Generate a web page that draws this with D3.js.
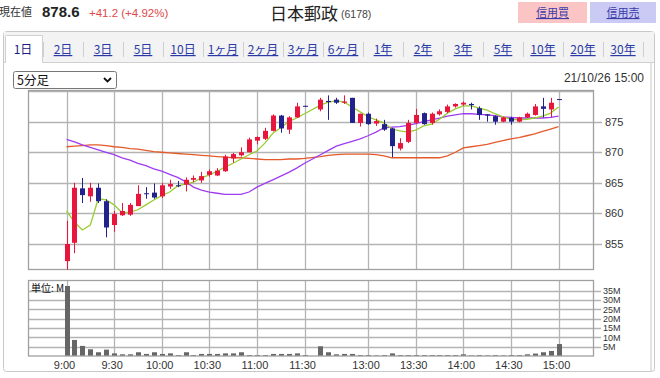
<!DOCTYPE html>
<meta charset="utf-8">
<script src="https://d3js.org/d3.v7.min.js"></script>
<style>
  html, body { margin: 0; padding: 0; background: #fff; }
  svg { display: block; font-family: 'Liberation Sans', Arial, 'Noto Sans CJK JP', sans-serif; }
  .jp { font-family: 'Noto Sans CJK JP', sans-serif; }
</style>
<body>
<div id="chart"></div>
<script>

// 5分足, 21/10/26
var amTimes = ["9:00","9:05","9:10","9:15","9:20","9:25","9:30","9:35","9:40","9:45","9:50","9:55",
  "10:00","10:05","10:10","10:15","10:20","10:25","10:30","10:35","10:40","10:45","10:50","10:55",
  "11:00","11:05","11:10","11:15","11:20","11:25","11:30"];
var pmTimes = ["12:30","12:35","12:40","12:45","12:50","12:55","13:00","13:05","13:10","13:15","13:20","13:25",
  "13:30","13:35","13:40","13:45","13:50","13:55","14:00","14:05","14:10","14:15","14:20","14:25",
  "14:30","14:35","14:40","14:45","14:50","14:55","15:00"];
var times = amTimes.concat(pmTimes);

var open = [852.2,855.2,864.1,862.8,864.2,862.0,858.1,859.7,859.8,861.2,863.3,863.4,862.8,864.4,864.6,864.7,865.5,865.4,866.3,866.2,866.9,869.0,869.5,870.0,871.9,872.2,873.5,876.0,873.7,875.7,877.6,
  877.0,878.4,878.6,878.1,878.9,874.8,876.3,874.7,874.6,873.9,870.6,871.7,874.8,876.4,874.8,876.2,876.6,877.5,877.8,877.9,877.2,876.2,875.9,875.0,875.6,875.0,875.7,876.1,877.5,877.0,878.7];
var high = [858.8,865.0,865.8,865.0,864.9,862.3,860.4,861.7,861.7,864.6,864.3,864.9,865.0,865.5,865.3,865.9,866.2,866.8,867.2,867.4,869.6,869.9,870.8,872.4,872.6,874.0,876.2,876.1,875.9,878.1,877.6,
  878.9,879.3,878.9,879.3,878.9,876.3,876.5,875.5,875.3,874.0,872.3,875.3,877.1,876.5,876.5,877.0,877.8,878.0,878.3,878.1,877.5,876.2,876.0,875.8,875.8,875.8,876.5,877.9,878.9,878.9,878.7];
var low = [850.8,853.5,861.7,861.9,861.7,856.1,857.0,859.6,859.6,861.2,862.4,862.4,862.5,864.0,864.3,863.6,865.1,865.0,866.0,866.1,866.8,868.3,869.3,870.0,871.3,872.0,873.4,873.2,873.0,875.6,877.4,
  876.7,875.3,877.9,877.9,874.8,874.2,874.5,874.3,873.5,869.2,870.3,871.5,874.6,874.5,874.5,876.0,876.4,877.3,877.6,877.0,875.3,875.0,874.5,874.9,874.5,874.9,875.6,876.0,875.7,875.7,878.6];
var close = [855.0,864.2,863.0,864.2,862.0,857.7,859.9,860.4,861.4,863.2,863.2,862.6,864.6,864.8,864.5,865.5,865.8,866.1,866.9,867.0,869.3,869.7,870.0,872.1,872.5,873.5,876.0,873.9,875.7,877.5,877.5,
  878.6,878.2,878.1,878.3,874.8,876.3,874.6,875.1,873.7,871.0,871.5,874.8,876.1,874.6,876.3,876.7,877.5,877.9,878.1,877.7,876.1,876.0,875.0,875.7,875.0,875.7,876.3,877.5,877.1,878.1,878.6];

// 出来高 (単位: M)
var volume = [37.5,8.6,5.4,3.6,2.0,3.4,1.4,0.9,0.9,2.0,1.1,2.0,1.1,1.4,0.5,2.0,0.5,1.1,1.1,1.1,1.4,1.4,2.0,0.5,0.5,0.5,1.1,1.1,1.1,1.4,0.5,
  5.2,2.0,0.9,1.1,1.1,0.5,0.5,0.3,0.5,1.4,0.5,0.5,0.5,0.5,0.5,0.5,0.5,0.5,0.9,0.3,0.5,0.3,0.5,0.3,0.5,0.5,0.9,1.3,2.0,2.7,6.4];

// 移動平均
var ma5 = [860.4,858.6,857.3,858.1,862.4,862.2,861.4,860.1,860.2,860.6,861.4,862.2,862.9,863.5,864.5,864.8,865.1,865.8,866.3,866.9,867.6,868.2,868.9,869.6,870.2,871.5,873.1,874.0,875.0,875.6,876.3,
  877.7,878.2,878.4,878.2,877.4,876.6,875.8,875.3,874.8,873.8,873.5,873.3,873.6,874.3,874.6,875.4,876.4,877.1,877.6,877.6,877.2,876.9,876.3,875.8,875.4,875.3,875.4,875.6,875.9,876.4,877.4];
var ma25 = [872.1,871.7,871.2,870.8,870.4,870.0,869.6,869.1,868.7,868.2,867.8,867.3,866.9,866.4,865.9,865.2,864.3,863.8,863.5,863.3,863.1,863.1,863.1,863.5,864.3,864.9,865.5,866.1,866.7,867.4,868.2,
  869.6,870.3,871.0,871.4,871.8,872.2,872.7,873.3,874.0,874.1,874.2,874.4,874.7,875.0,875.3,875.6,875.9,876.1,876.3,876.3,876.2,876.1,876.0,875.8,875.7,875.6,875.6,875.6,875.6,875.7,875.9];
var ma75 = [870.9,871.0,871.1,871.2,871.2,871.1,870.9,870.8,870.6,870.5,870.3,870.1,870.0,869.9,869.8,869.7,869.6,869.5,869.4,869.3,869.2,869.1,869.1,869.0,868.9,868.8,868.8,868.8,868.9,868.9,869.0,
  869.3,869.5,869.6,869.7,869.7,869.7,869.7,869.6,869.4,869.1,869.1,869.1,869.1,869.1,869.1,869.1,869.4,870.0,870.7,870.9,871.1,871.3,871.6,871.9,872.2,872.4,872.7,873.0,873.4,873.8,874.2];

var priceTicks = [855, 860, 865, 870, 875, 880];
var volTicks = [5, 10, 15, 20, 25, 30, 35];
var timeTicks = ["9:00","9:30","10:00","10:30","11:00","11:30","13:00","13:30","14:00","14:30","15:00"];
var tabs = ["1日","2日","3日","5日","10日","1ヶ月","2ヶ月","3ヶ月","6ヶ月","1年","2年","3年","5年","10年","20年","30年"];

var W = 660, H = 378;
var svg = d3.select("#chart").append("svg").attr("width", W).attr("height", H);

// ---- header ----
svg.append("text").attr("class", "jp").attr("x", -1).attr("y", 16).attr("font-size", 11).attr("fill", "#333").text("現在値");
svg.append("text").attr("x", 42).attr("y", 17).attr("font-size", 15).attr("font-weight", "bold").attr("fill", "#222").text("878.6");
svg.append("text").attr("x", 89).attr("y", 17).attr("font-size", 11.5).attr("fill", "#e04848").text("+41.2 (+4.92%)");
svg.append("text").attr("class", "jp").attr("x", 270).attr("y", 20).attr("font-size", 17).attr("fill", "#222").text("日本郵政");
svg.append("text").attr("x", 341).attr("y", 18).attr("font-size", 10.5).attr("fill", "#444").text("(6178)");

var btns = [{t: "信用買", x: 518, w: 69, c: "#fbc5c5"}, {t: "信用売", x: 590, w: 66, c: "#cacaf4"}];
btns.forEach(function(b) {
  svg.append("rect").attr("x", b.x).attr("y", 2).attr("width", b.w).attr("height", 21).attr("fill", b.c);
  svg.append("text").attr("class", "jp").attr("x", b.x + b.w / 2).attr("y", 17)
    .attr("text-anchor", "middle").attr("font-size", 11).attr("fill", "#3a3aa8")
    .attr("text-decoration", "underline").text(b.t);
});

// ---- panel + tabs ----
svg.append("rect").attr("x", 3.5).attr("y", 31.5).attr("width", 651).attr("height", 340).attr("rx", 3)
  .attr("fill", "#fff").attr("stroke", "#c8c8c8");
svg.append("rect").attr("x", 4).attr("y", 32).attr("width", 650).attr("height", 30).attr("fill", "#f3f3f3");
svg.append("line").attr("x1", 4).attr("x2", 654).attr("y1", 62.5).attr("y2", 62.5).attr("stroke", "#d0d0d0");
svg.append("path").attr("d", "M5.5,62.5 V36.5 Q5.5,35.5 6.5,35.5 H42.5 V62.5").attr("fill", "#fff").attr("stroke", "#d0d0d0");
svg.append("line").attr("x1", 6).attr("x2", 42).attr("y1", 62.5).attr("y2", 62.5).attr("stroke", "#fff");
svg.append("line").attr("x1", 651).attr("x2", 651).attr("y1", 63).attr("y2", 371).attr("stroke", "#e2e2e2").attr("stroke-width", 2);

tabs.forEach(function(t, i) {
  svg.append("text").attr("class", "jp").attr("x", 23 + 40 * i).attr("y", 54)
    .attr("text-anchor", "middle").attr("font-size", 12)
    .attr("fill", i == 0 ? "#1b1b80" : "#2b3ba6")
    .attr("text-decoration", i == 0 ? null : "underline").text(t);
  if (i > 0) svg.append("line").attr("x1", 3.5 + 40 * i).attr("x2", 3.5 + 40 * i).attr("y1", 42).attr("y2", 57).attr("stroke", "#cfcfcf");
});
svg.append("line").attr("x1", 643.5).attr("x2", 643.5).attr("y1", 42).attr("y2", 57).attr("stroke", "#cfcfcf");

// dropdown + date
svg.append("rect").attr("x", 13.5).attr("y", 71.5).attr("width", 103).attr("height", 17).attr("rx", 2)
  .attr("fill", "#fff").attr("stroke", "#777");
svg.append("text").attr("class", "jp").attr("x", 17).attr("y", 85).attr("font-size", 12.5).attr("fill", "#111").text("5分足");
svg.append("path").attr("d", "M104,78 L107.5,81.5 L111,78").attr("fill", "none").attr("stroke", "#111").attr("stroke-width", 1.8);
svg.append("text").attr("x", 644).attr("y", 82).attr("text-anchor", "end").attr("font-size", 12).attr("fill", "#333").text("21/10/26 15:00");

// ---- scales ----
var x = d3.scalePoint().domain(amTimes.concat(["lunch"], pmTimes)).range([66.5, 558.5]);
var y = d3.scaleLinear().domain([850.75, 880.18]).range([270, 90]);
var yv = d3.scaleLinear().domain([0, 40.7]).range([356, 280]);

var plotL = 28, plotR = 594;
var grid = "#b4b4b4";

// ---- price panel ----
var pg = svg.append("g");
pg.append("rect").attr("x", plotL).attr("y", 90).attr("width", plotR - plotL).attr("height", 180).attr("fill", "#fff");
pg.selectAll(".vg").data(timeTicks).enter().append("line")
  .attr("x1", function(d) { return Math.round(x(d)) + 0.5; }).attr("x2", function(d) { return Math.round(x(d)) + 0.5; })
  .attr("y1", 90).attr("y2", 270).attr("stroke", grid).attr("stroke-width", 1.3);
pg.selectAll(".hg").data(priceTicks).enter().append("line")
  .attr("x1", plotL).attr("x2", function(d) { return d == 880 ? plotR : plotR + 8; })
  .attr("y1", function(d) { return Math.round(y(d)) + 0.5; }).attr("y2", function(d) { return Math.round(y(d)) + 0.5; })
  .attr("stroke", grid).attr("stroke-width", 1.3);
pg.selectAll(".pl").data(priceTicks.filter(function(d) { return d < 880; })).enter().append("text")
  .attr("x", 605).attr("y", function(d) { return y(d) + 4; }).attr("font-size", 11).attr("fill", "#333").text(function(d) { return d; });
pg.append("rect").attr("x", plotL + 0.5).attr("y", 90.5).attr("width", plotR - plotL - 1).attr("height", 179)
  .attr("fill", "none").attr("stroke", "#a0a0a0").attr("stroke-width", 1.3);

// moving averages
function maLine(arr, color) {
  var line = d3.line().x(function(d, i) { return x(times[i]); }).y(function(d) { return y(d); });
  pg.append("path").datum(arr).attr("d", line).attr("fill", "none").attr("stroke", color).attr("stroke-width", 1.3);
}
maLine(ma75, "#e55a2b");
maLine(ma25, "#a03cf0");
maLine(ma5, "#9acd32");

// candles
var cd = times.map(function(t, i) { return {t: t, o: open[i], h: high[i], l: low[i], c: close[i]}; });
var col = function(d) { return d.c >= d.o ? "#e8163c" : "#22228c"; };
pg.selectAll(".wick").data(cd).enter().append("line")
  .attr("x1", function(d) { return Math.round(x(d.t)) + 0.5; }).attr("x2", function(d) { return Math.round(x(d.t)) + 0.5; })
  .attr("y1", function(d) { return y(d.h); }).attr("y2", function(d) { return y(d.l); })
  .attr("stroke", col).attr("stroke-width", 1);
pg.selectAll(".body").data(cd).enter().append("rect")
  .attr("x", function(d) { return Math.round(x(d.t)) - 2; })
  .attr("y", function(d) { return y(Math.max(d.o, d.c)); })
  .attr("width", 5)
  .attr("height", function(d) { return Math.max(1, y(Math.min(d.o, d.c)) - y(Math.max(d.o, d.c))); })
  .attr("fill", col);

// ---- volume panel ----
var vg = svg.append("g");
vg.selectAll(".vvg").data(timeTicks).enter().append("line")
  .attr("x1", function(d) { return Math.round(x(d)) + 0.5; }).attr("x2", function(d) { return Math.round(x(d)) + 0.5; })
  .attr("y1", 280).attr("y2", 356).attr("stroke", grid).attr("stroke-width", 1.3);
vg.selectAll(".vhg").data(volTicks).enter().append("line")
  .attr("x1", plotL).attr("x2", plotR + 7)
  .attr("y1", function(d) { return Math.round(yv(d)) + 0.5; }).attr("y2", function(d) { return Math.round(yv(d)) + 0.5; })
  .attr("stroke", grid).attr("stroke-width", 1.3);
vg.selectAll(".vl").data(volTicks).enter().append("text")
  .attr("x", 603).attr("y", function(d) { return yv(d) + 3.2; }).attr("font-size", 9).attr("fill", "#333")
  .text(function(d) { return d + "M"; });
vg.selectAll(".bar").data(volume).enter().append("rect")
  .attr("x", function(d, i) { return Math.round(x(times[i])) - 2; })
  .attr("y", function(d) { return Math.max(281, yv(d)); })
  .attr("width", 5)
  .attr("height", function(d) { return 356 - Math.max(281, yv(d)); })
  .attr("fill", "#666");
vg.append("rect").attr("x", plotL + 0.5).attr("y", 280.5).attr("width", plotR - plotL - 1).attr("height", 75.5)
  .attr("fill", "none").attr("stroke", "#a0a0a0").attr("stroke-width", 1.3);
vg.append("text").attr("class", "jp").attr("x", 31).attr("y", 292).attr("font-size", 10).attr("fill", "#111").text("単位: M");
vg.selectAll(".tl").data(timeTicks).enter().append("text")
  .attr("x", function(d) { return x(d) - 2; }).attr("y", 369).attr("text-anchor", "middle")
  .attr("font-size", 11).attr("fill", "#333").text(function(d) { return d; });

</script>
</body>
